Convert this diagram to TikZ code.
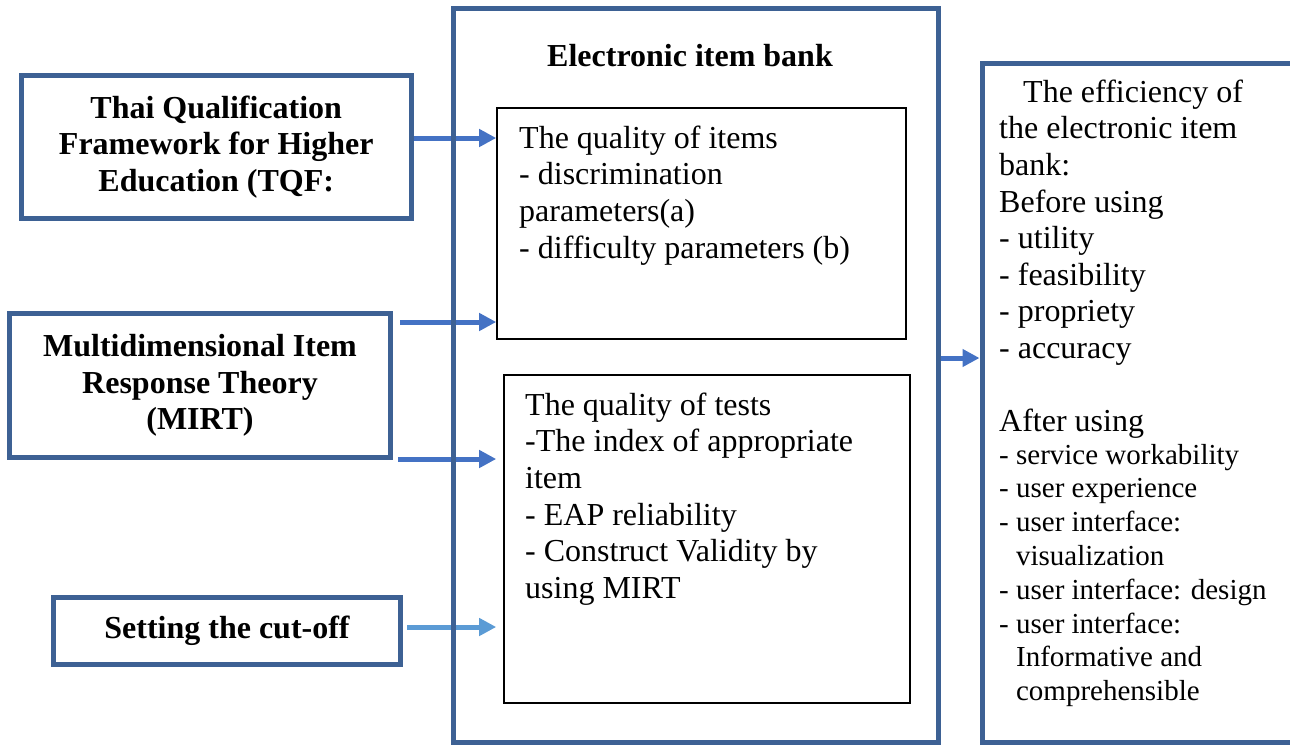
\documentclass[tikz,border=0pt]{standalone}
\usepackage{fontspec}
\setmainfont{Liberation Serif}
\usetikzlibrary{arrows.meta,calc}
\definecolor{boxblue}{HTML}{3D6194}
\definecolor{arrblue}{HTML}{4472C4}
\definecolor{arrlight}{HTML}{5B9BD5}
\pgfdeclarelayer{background}
\pgfsetlayers{background,main}
\begin{document}
\begin{tikzpicture}[x=1pt,y=-1pt,
  outer/.style={draw=boxblue, line width=5pt, inner sep=0pt},
  innerbox/.style={draw=black, line width=1.6pt, inner sep=0pt},
  lbl/.style={font=\fontsize{32}{36.6}\selectfont\bfseries, align=center},
  body/.style={font=\fontsize{32}{36.6}\selectfont, align=left, inner sep=0pt, anchor=north west},
  small/.style={font=\fontsize{29}{33.8}\selectfont, align=left, inner sep=0pt, anchor=north west},
  arr/.style={draw=arrblue, line width=5pt, -{Triangle[length=17pt,width=17pt]}},
  arrl/.style={arr, draw=arrlight},
]
\useasboundingbox (0,0) rectangle (1290,745);
\clip (0,0) rectangle (1290,745);

% left boxes
\node[outer, lbl, minimum width=389.5pt, minimum height=142.5pt] (tqf) at (216.25,146.75)
  {Thai Qualification\\Framework for Higher\\Education (TQF:};
\node[outer, lbl, minimum width=381pt, minimum height=144pt] (mirt) at (200,385.5)
  {Multidimensional Item\\Response Theory\\(MIRT)};
\node[outer, lbl, minimum width=347pt, minimum height=67pt] (cut) at (227,631)
  {Setting the cut-off};

% electronic item bank
\node[outer, minimum width=485pt, minimum height=734pt] (bank) at (695.5,375) {};
\node[lbl, anchor=base] (banktitle) at (690,66) {Electronic item bank};

\node[innerbox, minimum width=409pt, minimum height=231pt] (items) at (701.5,223.5) {};
\node[body] (itemstext) at (519,122.4)
  {\strut The quality of items\\- discrimination\\parameters(a)\\- difficulty parameters (b)};

\node[innerbox, minimum width=406pt, minimum height=328pt] (tests) at (707,539) {};
\node[body] (teststext) at (525,389.4)
  {\strut The quality of tests\\-The index of appropriate\\item\\- EAP reliability\\- Construct Validity by\\using MIRT};

% efficiency box
\node[outer, minimum width=320pt, minimum height=679pt] (eff) at (1142,402.5) {};
\node[body] (efftext) at (999,76.4)
  {\strut\hspace*{24pt}The efficiency of\\the electronic item\\bank:\\Before using\\- utility\\- feasibility\\- propriety\\- accuracy\\[36.6pt]After using};
\node[small] (afttext) at (999,440.3)
  {\strut - service workability\\- user experience\\- user interface:\\\phantom{- }visualization\\- user interface: design\\- user interface:\\\phantom{- }Informative and\\\phantom{- }comprehensible};

% arrows
\coordinate (y1) at (0,138);
\coordinate (y2) at (0,322);
\coordinate (y3) at (0,459);
\coordinate (y4) at (0,627);
\coordinate (y5) at (0,358);
\begin{pgfonlayer}{background}
\draw[arr] (tqf.east |- y1) -- (items.west |- y1);
\draw[arr] ($(mirt.east |- y2)+(7,0)$) -- (items.west |- y2);
\draw[arr] ($(mirt.east |- y3)+(5,0)$) -- (items.west |- y3);
\draw[arrl] ($(cut.east |- y4)+(4,0)$) -- (items.west |- y4);
\draw[arr] (bank.east |- y5) -- (eff.west |- y5);
\end{pgfonlayer}
\end{tikzpicture}
\end{document}
